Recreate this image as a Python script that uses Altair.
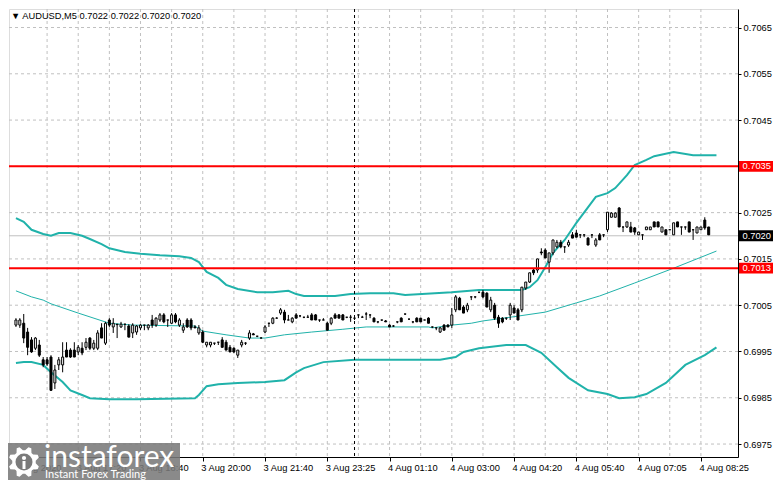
import math
import altair as alt
import pandas as pd

# ---------------- data ----------------
symbol_name = "AUDUSD,M5"
last_ohlc = [0.7022, 0.7022, 0.7020, 0.7020]

opens = [
    0.70007, 0.70007, 0.70011, 0.69992, 0.69975, 0.69957, 0.69964, 0.69932, 0.69932, 0.69938,
    0.69882, 0.69921, 0.69921, 0.69953, 0.69953, 0.69953, 0.69949, 0.69957, 0.69959, 0.69979,
    0.69957, 0.69957, 0.70001, 0.69968, 0.70018, 0.70003, 0.70009, 0.70003, 0.70009, 0.70005,
    0.69990, 0.69992, 0.70001, 0.70007, 0.70001, 0.70018, 0.70007, 0.70018, 0.70029, 0.70018,
    0.70011, 0.70029, 0.70007, 0.69996, 0.70018, 0.70018, 0.70003, 0.69990, 0.69992, 0.69964,
    0.69964, 0.69968, 0.69970, 0.69975, 0.69970, 0.69959, 0.69957, 0.69942, 0.69964, 0.69968,
    0.69979, 0.69988, 0.69983, 0.69979, 0.69992, 0.70011, 0.70011, 0.70022, 0.70033, 0.70035,
    0.70018, 0.70014, 0.70029, 0.70027, 0.70024, 0.70024, 0.70029, 0.70029, 0.70018, 0.70018,
    0.70011, 0.70011, 0.70029, 0.70029, 0.70029, 0.70024, 0.70024, 0.70022, 0.70029, 0.70024,
    0.70031, 0.70029, 0.70022, 0.70014, 0.70018, 0.70016, 0.70007, 0.70005, 0.70014, 0.70022,
    0.70031, 0.70020, 0.70014, 0.70022, 0.70022, 0.70018, 0.70022, 0.70003, 0.70001, 0.69992,
    0.70007, 0.70007, 0.70007, 0.70040, 0.70065, 0.70046, 0.70040, 0.70068, 0.70068, 0.70078,
    0.70078, 0.70076, 0.70040, 0.70050, 0.70024, 0.70022, 0.70022, 0.70029, 0.70044, 0.70040,
    0.70040, 0.70087, 0.70100, 0.70126, 0.70126, 0.70165, 0.70169, 0.70143, 0.70163, 0.70176,
    0.70186, 0.70176, 0.70180, 0.70202, 0.70206, 0.70202, 0.70202, 0.70195, 0.70202, 0.70180,
    0.70202, 0.70202, 0.70213, 0.70240, 0.70240, 0.70260, 0.70219, 0.70219, 0.70219, 0.70217,
    0.70202, 0.70202, 0.70213, 0.70213, 0.70230, 0.70230, 0.70208, 0.70213, 0.70213, 0.70202,
    0.70230, 0.70219, 0.70219, 0.70230, 0.70213, 0.70206, 0.70213, 0.70234, 0.70219,
]
highs = [
    0.70022, 0.70022, 0.70031, 0.70001, 0.69981, 0.69981, 0.69975, 0.69938, 0.69938, 0.69942,
    0.69921, 0.69938, 0.69970, 0.69970, 0.69957, 0.69970, 0.69964, 0.69970, 0.69979, 0.69981,
    0.69975, 0.69996, 0.70011, 0.70014, 0.70022, 0.70022, 0.70009, 0.70014, 0.70009, 0.70009,
    0.70011, 0.70007, 0.70009, 0.70007, 0.70009, 0.70029, 0.70024, 0.70033, 0.70033, 0.70018,
    0.70033, 0.70033, 0.70022, 0.70011, 0.70022, 0.70022, 0.70007, 0.70007, 0.69996, 0.69970,
    0.69970, 0.69968, 0.69970, 0.69981, 0.69975, 0.69964, 0.69959, 0.69953, 0.69975, 0.69970,
    0.69996, 0.69990, 0.69983, 0.69981, 0.70007, 0.70011, 0.70024, 0.70024, 0.70044, 0.70040,
    0.70029, 0.70024, 0.70033, 0.70027, 0.70024, 0.70029, 0.70033, 0.70031, 0.70018, 0.70022,
    0.70014, 0.70024, 0.70033, 0.70031, 0.70031, 0.70024, 0.70029, 0.70022, 0.70029, 0.70027,
    0.70035, 0.70029, 0.70024, 0.70014, 0.70018, 0.70018, 0.70009, 0.70007, 0.70014, 0.70024,
    0.70031, 0.70020, 0.70014, 0.70024, 0.70022, 0.70018, 0.70024, 0.70003, 0.70001, 0.70003,
    0.70009, 0.70009, 0.70044, 0.70072, 0.70068, 0.70050, 0.70055, 0.70068, 0.70068, 0.70078,
    0.70083, 0.70078, 0.70068, 0.70055, 0.70029, 0.70024, 0.70022, 0.70055, 0.70050, 0.70044,
    0.70089, 0.70100, 0.70120, 0.70130, 0.70150, 0.70173, 0.70173, 0.70163, 0.70191, 0.70191,
    0.70191, 0.70176, 0.70191, 0.70208, 0.70213, 0.70202, 0.70202, 0.70197, 0.70202, 0.70195,
    0.70206, 0.70202, 0.70251, 0.70251, 0.70251, 0.70262, 0.70219, 0.70230, 0.70230, 0.70219,
    0.70208, 0.70202, 0.70219, 0.70219, 0.70230, 0.70230, 0.70219, 0.70213, 0.70213, 0.70228,
    0.70230, 0.70219, 0.70219, 0.70230, 0.70213, 0.70219, 0.70219, 0.70240, 0.70219,
]
lows = [
    0.70003, 0.70001, 0.69968, 0.69942, 0.69947, 0.69953, 0.69938, 0.69916, 0.69919, 0.69866,
    0.69869, 0.69910, 0.69905, 0.69938, 0.69936, 0.69938, 0.69942, 0.69942, 0.69953, 0.69953,
    0.69953, 0.69953, 0.69979, 0.69964, 0.70003, 0.69990, 0.69979, 0.70001, 0.69996, 0.69981,
    0.69979, 0.69986, 0.69996, 0.69996, 0.69996, 0.70001, 0.70003, 0.70014, 0.70011, 0.70003,
    0.70009, 0.70011, 0.70003, 0.69990, 0.70001, 0.69996, 0.70001, 0.69986, 0.69968, 0.69959,
    0.69959, 0.69964, 0.69964, 0.69959, 0.69953, 0.69949, 0.69947, 0.69936, 0.69959, 0.69964,
    0.69975, 0.69986, 0.69981, 0.69979, 0.69990, 0.70003, 0.70009, 0.70022, 0.70029, 0.70011,
    0.70018, 0.70011, 0.70022, 0.70024, 0.70022, 0.70024, 0.70018, 0.70018, 0.70014, 0.70018,
    0.69996, 0.70007, 0.70022, 0.70022, 0.70018, 0.70022, 0.70014, 0.70018, 0.70022, 0.70024,
    0.70018, 0.70022, 0.70014, 0.70011, 0.70016, 0.70014, 0.70003, 0.70003, 0.70011, 0.70014,
    0.70029, 0.70018, 0.70011, 0.70014, 0.70014, 0.70018, 0.70011, 0.70001, 0.69996, 0.69990,
    0.69996, 0.70003, 0.70001, 0.70035, 0.70040, 0.70033, 0.70035, 0.70061, 0.70065, 0.70076,
    0.70065, 0.70046, 0.70035, 0.70018, 0.70001, 0.70011, 0.70018, 0.70018, 0.70033, 0.70018,
    0.70035, 0.70083, 0.70098, 0.70115, 0.70120, 0.70158, 0.70152, 0.70120, 0.70158, 0.70173,
    0.70173, 0.70163, 0.70176, 0.70195, 0.70197, 0.70195, 0.70197, 0.70180, 0.70195, 0.70176,
    0.70191, 0.70197, 0.70208, 0.70240, 0.70240, 0.70219, 0.70208, 0.70217, 0.70208, 0.70202,
    0.70202, 0.70191, 0.70213, 0.70213, 0.70219, 0.70219, 0.70208, 0.70202, 0.70213, 0.70202,
    0.70219, 0.70202, 0.70213, 0.70208, 0.70191, 0.70206, 0.70213, 0.70213, 0.70202,
]
closes = [
    0.70018, 0.70018, 0.69979, 0.69959, 0.69949, 0.69979, 0.69942, 0.69921, 0.69923, 0.69866,
    0.69910, 0.69932, 0.69938, 0.69938, 0.69938, 0.69938, 0.69959, 0.69947, 0.69970, 0.69957,
    0.69968, 0.69990, 0.69979, 0.70011, 0.70007, 0.70011, 0.70008, 0.70009, 0.70009, 0.69981,
    0.70007, 0.70005, 0.70007, 0.70007, 0.70007, 0.70007, 0.70022, 0.70029, 0.70014, 0.70018,
    0.70029, 0.70014, 0.70018, 0.70003, 0.70003, 0.70001, 0.70001, 0.70001, 0.69970, 0.69970,
    0.69970, 0.69968, 0.69970, 0.69959, 0.69953, 0.69949, 0.69949, 0.69953, 0.69970, 0.69968,
    0.69990, 0.69986, 0.69983, 0.69979, 0.70003, 0.70011, 0.70022, 0.70022, 0.70040, 0.70018,
    0.70018, 0.70022, 0.70022, 0.70027, 0.70024, 0.70024, 0.70018, 0.70018, 0.70018, 0.70018,
    0.69996, 0.70022, 0.70022, 0.70022, 0.70018, 0.70024, 0.70024, 0.70022, 0.70029, 0.70024,
    0.70031, 0.70029, 0.70014, 0.70014, 0.70018, 0.70014, 0.70003, 0.70005, 0.70014, 0.70014,
    0.70031, 0.70020, 0.70014, 0.70014, 0.70014, 0.70018, 0.70011, 0.70003, 0.70001, 0.70001,
    0.69996, 0.70003, 0.70029, 0.70068, 0.70040, 0.70033, 0.70050, 0.70068, 0.70068, 0.70078,
    0.70068, 0.70046, 0.70061, 0.70022, 0.70011, 0.70014, 0.70022, 0.70050, 0.70033, 0.70018,
    0.70089, 0.70100, 0.70120, 0.70120, 0.70150, 0.70163, 0.70152, 0.70163, 0.70191, 0.70186,
    0.70176, 0.70176, 0.70186, 0.70195, 0.70197, 0.70202, 0.70202, 0.70180, 0.70202, 0.70191,
    0.70191, 0.70202, 0.70251, 0.70249, 0.70249, 0.70219, 0.70219, 0.70230, 0.70208, 0.70208,
    0.70208, 0.70202, 0.70219, 0.70219, 0.70219, 0.70219, 0.70219, 0.70202, 0.70213, 0.70228,
    0.70219, 0.70219, 0.70219, 0.70208, 0.70213, 0.70219, 0.70219, 0.70217, 0.70202,
]

# Bollinger bands (bar index, value)
upper_i = [0, 2, 4, 7, 9, 11, 14, 17, 19, 22, 24, 28, 32, 37, 42, 45, 47, 49, 52, 54,
           57, 62, 66, 70, 72, 74, 82, 86, 91, 97, 100, 112, 119, 130, 132, 134, 136, 138, 141, 144,
           149, 152, 154, 157, 159, 162, 164, 169, 174, 180]
upper_v = [0.70238, 0.70230, 0.70213, 0.70204, 0.70200, 0.70206, 0.70206, 0.70200, 0.70193, 0.70182,
           0.70173, 0.70165, 0.70161, 0.70158, 0.70156, 0.70152, 0.70143, 0.70122, 0.70109, 0.70094,
           0.70085, 0.70078, 0.70078, 0.70081, 0.70074, 0.70070, 0.70070, 0.70074, 0.70076, 0.70076,
           0.70072, 0.70078, 0.70083, 0.70083, 0.70089, 0.70104, 0.70132, 0.70163, 0.70191, 0.70228,
           0.70284, 0.70292, 0.70303, 0.70331, 0.70353, 0.70364, 0.70372, 0.70381, 0.70374, 0.70374]
mid_i = [0, 4, 7, 9, 16, 24, 30, 46, 48, 54, 60, 64, 69, 76, 84, 90, 106, 107, 112, 117,
         120, 127, 136, 144, 150, 159, 169, 180]
mid_v = [0.70081, 0.70068, 0.70061, 0.70053, 0.70033, 0.70011, 0.70007, 0.70005, 0.69994, 0.69986,
         0.69979, 0.69979, 0.69986, 0.69992, 0.69998, 0.70003, 0.70003, 0.70001, 0.70007, 0.70011,
         0.70016, 0.70024, 0.70035, 0.70055, 0.70070, 0.70098, 0.70130, 0.70167]
low_i = [0, 2, 4, 7, 9, 12, 14, 17, 19, 24, 31, 46, 47, 49, 52, 57, 64, 69, 72, 74,
         79, 87, 109, 113, 115, 119, 126, 131, 135, 139, 142, 147, 152, 155, 159, 162, 167, 172, 177, 180]
low_v = [0.69925, 0.69927, 0.69927, 0.69921, 0.69905, 0.69884, 0.69866, 0.69856, 0.69849, 0.69847,
         0.69847, 0.69849, 0.69856, 0.69875, 0.69879, 0.69882, 0.69884, 0.69888, 0.69905, 0.69914,
         0.69927, 0.69932, 0.69932, 0.69938, 0.69949, 0.69957, 0.69964, 0.69964, 0.69947, 0.69916,
         0.69893, 0.69866, 0.69858, 0.69849, 0.69851, 0.69858, 0.69882, 0.69921, 0.69942, 0.69959]

x_label_bars = [0, 16, 32, 48, 64, 80, 96, 112, 128, 144, 160, 176]
x_labels = ["3 Aug 2020", "3 Aug 17:20", "3 Aug 18:40", "3 Aug 20:00", "3 Aug 21:40",
            "3 Aug 23:25", "4 Aug 01:10", "4 Aug 03:00", "4 Aug 04:20", "4 Aug 05:40",
            "4 Aug 07:05", "4 Aug 08:25"]
grid_bars = [8, 16, 24, 32, 40, 48, 56, 64, 72, 80, 88, 96, 104, 112, 120, 128, 136, 144,
             152, 160, 168, 176]
y_ticks = [0.6975, 0.6985, 0.6995, 0.7005, 0.7015, 0.7025, 0.7035, 0.7045, 0.7055, 0.7065]
red_levels = [0.7035, 0.7013]
bid_level = [0.7020]
day_separator = [87]

brand = "instaforex"
slogan = "Instant Forex Trading"

# ---------------- styling ----------------
FONT = "Liberation Sans"
FS = 9.3
W, H = 729, 448
xs = alt.Scale(domain=[-0.5, 184.25], nice=False, zero=False)
ys = alt.Scale(domain=[0.69722, 0.70690], nice=False, zero=False)
TEAL = "#20b2aa"
GRID = "#c0c0c0"

label_js = "[" + ",".join("'" + s + "'" for s in x_labels) + "]"
x_axis = alt.Axis(values=x_label_bars, labelExpr=label_js + "[round(datum.value/16)]",
                  title=None, grid=False, tickSize=4, tickColor="black", domainColor="black",
                  labelFont=FONT, labelFontSize=FS, labelColor="black", labelAlign="left",
                  labelBaseline="top", labelPadding=2, labelOffset=-2, labelFlush=False,
                  labelOverlap=False, orient="bottom")
y_axis = alt.Axis(values=[v for v in y_ticks if v not in red_levels], format=".4f",
                  orient="right", title=None, grid=False, tickSize=3, tickColor="black",
                  domainColor="black", labelFont=FONT, labelFontSize=FS, labelColor="black",
                  labelPadding=2, labelBaseline="middle", labelOverlap=False, labelFlush=False)


def X(field):
    return alt.X(field, scale=xs, axis=x_axis)


def Y(field):
    return alt.Y(field, scale=ys, axis=y_axis)


candles = pd.DataFrame({"i": list(range(len(opens))), "o": opens, "h": highs,
                        "l": lows, "c": closes})
candles["dir"] = ["up" if c >= o else "down" for o, c in zip(opens, closes)]

# grid
grid_v = alt.Chart(pd.DataFrame({"i": grid_bars})).mark_rule(
    color=GRID, strokeDash=[3, 3], strokeWidth=1).encode(x=X("i:Q"))
grid_h = alt.Chart(pd.DataFrame({"p": y_ticks})).mark_rule(
    color=GRID, strokeDash=[3, 3], strokeWidth=1).encode(y=Y("p:Q"))

bid = alt.Chart(pd.DataFrame({"p": bid_level})).mark_rule(color="#c0c0c0", strokeWidth=1).encode(
    y=Y("p:Q"))

sep = alt.Chart(pd.DataFrame({"i": day_separator})).mark_rule(
    color="black", strokeDash=[3, 3], strokeWidth=1).encode(x=X("i:Q"))


def band(idx, vals, width):
    return alt.Chart(pd.DataFrame({"i": idx, "v": vals})).mark_line(
        color=TEAL, strokeWidth=width).encode(x=X("i:Q"), y=Y("v:Q"))


upper = band(upper_i, upper_v, 2)
middle = band(mid_i, mid_v, 1)
lower = band(low_i, low_v, 2)

wicks = alt.Chart(candles).mark_rule(color="black", strokeWidth=1).encode(
    x=X("i:Q"), y=Y("l:Q"), y2="h:Q")
bodies = alt.Chart(candles).mark_bar(size=2, stroke="black", strokeWidth=1).encode(
    x=X("i:Q"), y=Y("o:Q"), y2="c:Q",
    fill=alt.Fill("dir:N", scale=alt.Scale(domain=["up", "down"], range=["white", "black"]),
                  legend=None))

red = alt.Chart(pd.DataFrame({"p": red_levels})).mark_rule(color="#ff0000", strokeWidth=2).encode(
    y=Y("p:Q"))

# price tags on the right axis
tags = pd.DataFrame({"p": red_levels + bid_level, "bg": ["#ff0000", "#ff0000", "black"]})
box_shape = "M-1,-0.32L1,-0.32L1,0.32L-1,0.32Z"
tag_box = alt.Chart(tags).mark_point(shape=box_shape, size=34 * 34, filled=True, opacity=1,
                                     strokeWidth=0).encode(
    x=alt.value(747), y=Y("p:Q"), fill=alt.Fill("bg:N", scale=None))
tag_text = alt.Chart(tags).mark_text(align="left", baseline="middle", font=FONT, fontSize=FS,
                                     color="white").encode(
    x=alt.value(733.5), y=Y("p:Q"), text=alt.Text("p:Q", format=".4f"))

# header text
header = "\u25bc " + symbol_name + "  " + " ".join(f"{v:.4f}" for v in last_ohlc)
head = alt.Chart(pd.DataFrame({"t": [header]})).mark_text(
    align="left", baseline="alphabetic", font=FONT, fontSize=FS, color="black").encode(
    x=alt.value(2), y=alt.value(10), text="t:N")

# watermark
wm_rect = alt.Chart(pd.DataFrame({"a": [0]})).mark_rect(color="#7a7a7a", opacity=0.88).encode(
    x=alt.value(-6), x2=alt.value(171), y=alt.value(434), y2=alt.value(480))


def gear_path(teeth=8, r_out=1.0, r_in=0.76):
    pts = []
    n = teeth * 4
    for k in range(n):
        a = 2 * math.pi * (k + 0.5) / n - math.pi / 2
        r = r_out if (k % 4) in (1, 2) else r_in
        pts.append(f"{r * math.cos(a):.3f},{r * math.sin(a):.3f}")
    return "M" + "L".join(pts) + "Z"


GX, GY = 15, 453
gear = alt.Chart(pd.DataFrame({"a": [0]})).mark_point(
    shape=gear_path(), size=31 * 31, filled=True, color="white", opacity=1, strokeWidth=0).encode(
    x=alt.value(GX), y=alt.value(GY))
gear_hole = alt.Chart(pd.DataFrame({"a": [0]})).mark_point(
    shape="circle", size=17 * 17, filled=True, color="#7a7a7a", opacity=1, strokeWidth=0).encode(
    x=alt.value(GX), y=alt.value(GY))
person_head = alt.Chart(pd.DataFrame({"a": [0]})).mark_point(
    shape="circle", size=18, filled=True, color="white", opacity=1, strokeWidth=0).encode(
    x=alt.value(GX), y=alt.value(GY - 4))
person_body = alt.Chart(pd.DataFrame({"a": [0]})).mark_rule(color="white", strokeWidth=3).encode(
    x=alt.value(GX), y=alt.value(GY - 1), y2=alt.value(GY + 7))
wm_brand = alt.Chart(pd.DataFrame({"t": [brand]})).mark_text(
    align="left", baseline="alphabetic", font="Lato", fontSize=30, color="white").encode(
    x=alt.value(35), y=alt.value(458), text="t:N")
wm_slogan = alt.Chart(pd.DataFrame({"t": [slogan]})).mark_text(
    align="left", baseline="alphabetic", font="Lato", fontSize=11, color="white").encode(
    x=alt.value(36), y=alt.value(469), text="t:N")

chart = alt.layer(
    grid_v, grid_h, bid, upper, middle, lower, sep, wicks, bodies, red,
    head, wm_rect, gear, gear_hole, person_head, person_body, wm_brand, wm_slogan,
    tag_box, tag_text,
).properties(
    width=W, height=H,
    autosize=alt.AutoSizeParams(type="none"),
    padding={"left": 1, "top": 1, "right": 35, "bottom": 23},
).configure_view(stroke="black", strokeWidth=1).configure(background="white")

chart.save("out.html", embed_options={"renderer": "svg", "actions": False})
